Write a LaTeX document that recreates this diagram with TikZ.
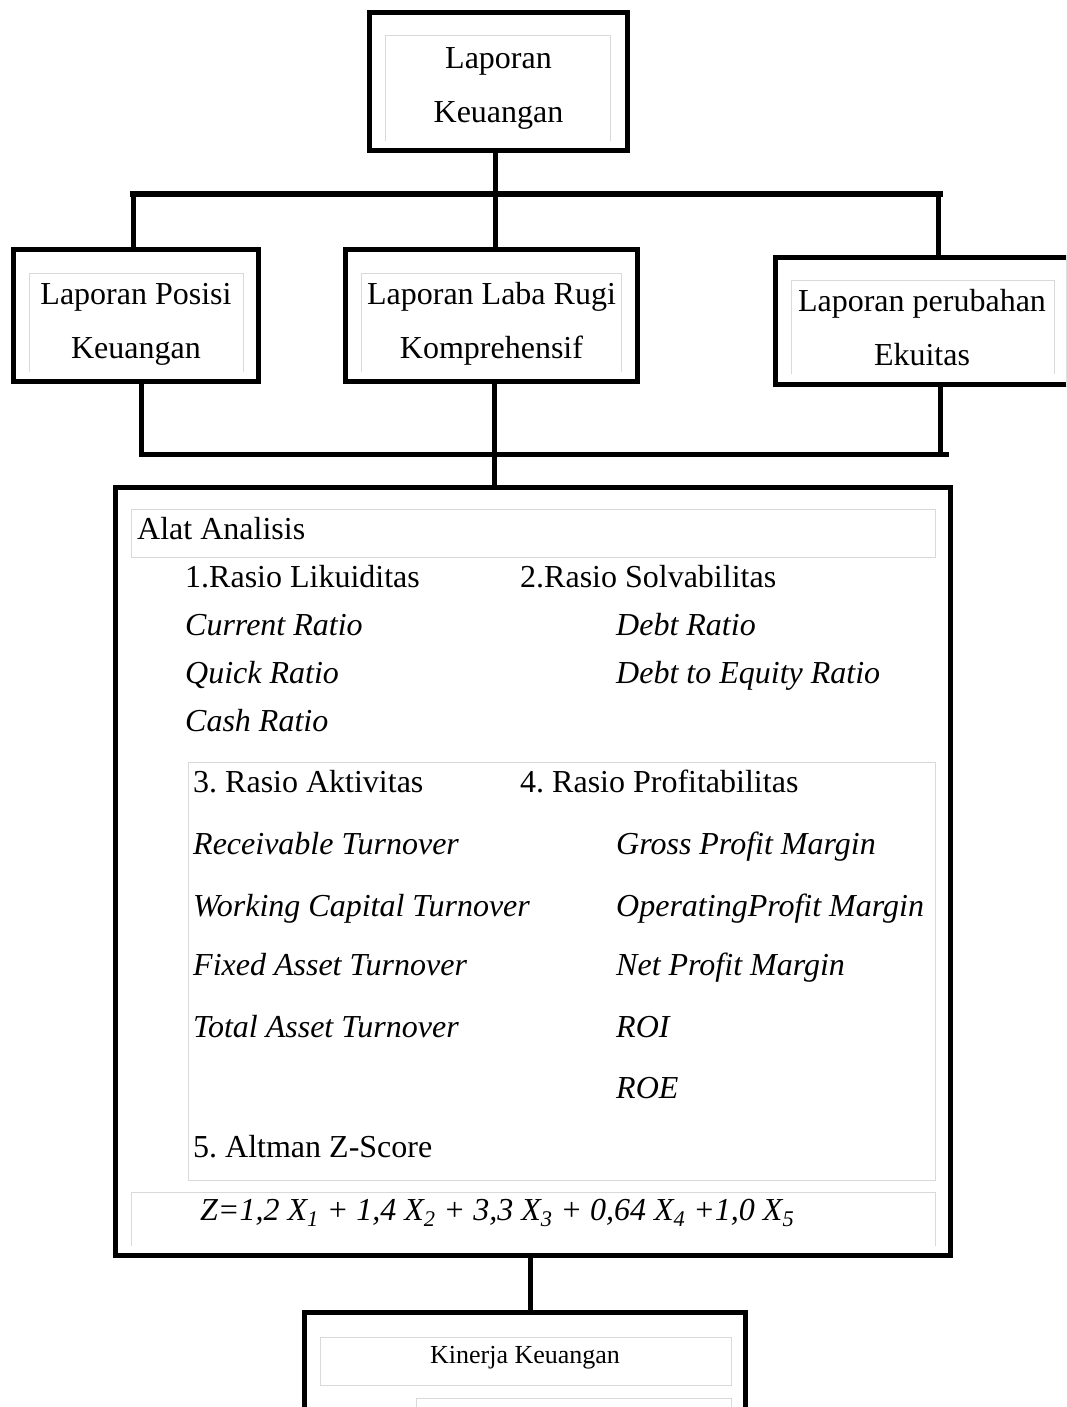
\documentclass[tikz,border=0pt]{standalone}
\usepackage{fontspec}
\setmainfont{Liberation Serif}
\usetikzlibrary{positioning}
\frenchspacing
\newcommand\bigtxt{\fontsize{32}{54}\selectfont}

\begin{document}
\begin{tikzpicture}[x=1pt,y=-1pt,box/.style={draw,line width=5pt,inner sep=0pt},txt/.style={align=center,inner sep=0pt,font=\bigtxt},frame/.style={draw=black!15,line width=0.8pt},conn/.style={line width=5pt},item/.style={anchor=base west,inner sep=0pt,font=\bigtxt},ital/.style={item,font=\bigtxt\itshape}]
\clip (0,0) rectangle (1066,1407);
% reports
\node[box,minimum width=258,minimum height=138] (lk) at (498.5,81.5) {};
\node[box,minimum width=245,minimum height=132] (lp) at (136,315.5) {};
\node[box,minimum width=292,minimum height=132] (lr) at (491.5,315.5) {};
\node[box,minimum width=293,minimum height=127] (le) at (922,321) {};
\node[txt] (lkt) at (498.5,88.5) {Laporan\\Keuangan};
\node[txt] (lpt) at (136,324.5) {Laporan Posisi\\Keuangan};
\node[txt] (lrt) at (491.5,323.5) {Laporan Laba Rugi\\Komprehensif};
\node[txt] (let) at (922,328) {Laporan perubahan\\Ekuitas};
\draw[frame] (385,141)--(385,35)--(610,35)--(610,141);
\draw[frame] (29,372)--(29,273)--(243,273)--(243,372);
\draw[frame] (361,372)--(361,273)--(621,273)--(621,372);
\draw[frame] (791,374)--(791,280)--(1054,280)--(1054,374);
% analysis box
\node[box,minimum width=835,minimum height=768] (aa) at (533,871.5) {};
\draw[frame] (131,509) rectangle (935,557);
\draw[frame] (188,762) rectangle (935,1180);
\draw[frame] (131,1246)--(131,1192)--(935,1192)--(935,1246);
\node[item] (al) at (137,539) {Alat Analisis};
\node[item] (r1) at (185,587) {1.Rasio Likuiditas};
\node[ital] (r1a) at (185,635) {Current Ratio};
\node[ital] (r1b) at (185,683) {Quick Ratio};
\node[ital] (r1c) at (185,731) {Cash Ratio};
\node[item] (r2) at (520,587) {2.Rasio Solvabilitas};
\node[ital] (r2a) at (616,635) {Debt Ratio};
\node[ital] (r2b) at (616,683) {Debt to Equity Ratio};
\node[item] (r3) at (193,792) {3. Rasio Aktivitas};
\node[ital] (r3a) at (193,854) {Receivable Turnover};
\node[ital] (r3b) at (193,916) {Working Capital Turnover};
\node[ital] (r3c) at (193,975) {Fixed Asset Turnover};
\node[ital] (r3d) at (193,1037) {Total Asset Turnover};
\node[item] (r4) at (520,792) {4. Rasio Profitabilitas};
\node[ital] (r4a) at (616,854) {Gross Profit Margin};
\node[ital] (r4b) at (616,916) {OperatingProfit Margin};
\node[ital] (r4c) at (616,975) {Net Profit Margin};
\node[ital] (r4d) at (616,1037) {ROI};
\node[ital] (r4e) at (616,1098) {ROE};
\node[item] (r5) at (193,1157) {5. Altman Z-Score};
\node[ital] (zf) at (200,1220) {Z=1,2 X\textsubscript{1} + 1,4 X\textsubscript{2} + 3,3 X\textsubscript{3} + 0,64 X\textsubscript{4} +1,0 X\textsubscript{5}};
% result
\node[box,minimum width=441,minimum height=200] (kk) at (525,1412.5) {};
\node[font=\fontsize{26}{30}\selectfont] (kt) at (525,1358) {Kinerja Keuangan};
\draw[frame] (320,1337) rectangle (731,1385);
\draw[frame] (416,1410)--(416,1398)--(731,1398)--(731,1410);
% connectors
\coordinate (busA) at (130,194); \coordinate (busB) at (943,194);
\coordinate (busC) at (139,454); \coordinate (busD) at (949,454);
\draw[conn] (busA)--(busB); \draw[conn] (busC)--(busD);
\draw[conn] ([xshift=-3]lk.south)--([xshift=-3]lk.south |- lr.north);
\draw[conn] ([xshift=-3]lp.north)--([xshift=-3]lp.north |- busA);
\draw[conn] ([xshift=16]le.north)--([xshift=16]le.north |- busA);
\draw[conn] ([xshift=5]lp.south)--([xshift=5]lp.south |- busC);
\draw[conn] ([xshift=3]lr.south)--([xshift=3]lr.south |- aa.north);
\draw[conn] ([xshift=18]le.south)--([xshift=18]le.south |- busC);
\draw[conn] ([xshift=5]kk.north |- aa.south)--([xshift=5]kk.north);
\end{tikzpicture}
\end{document}
